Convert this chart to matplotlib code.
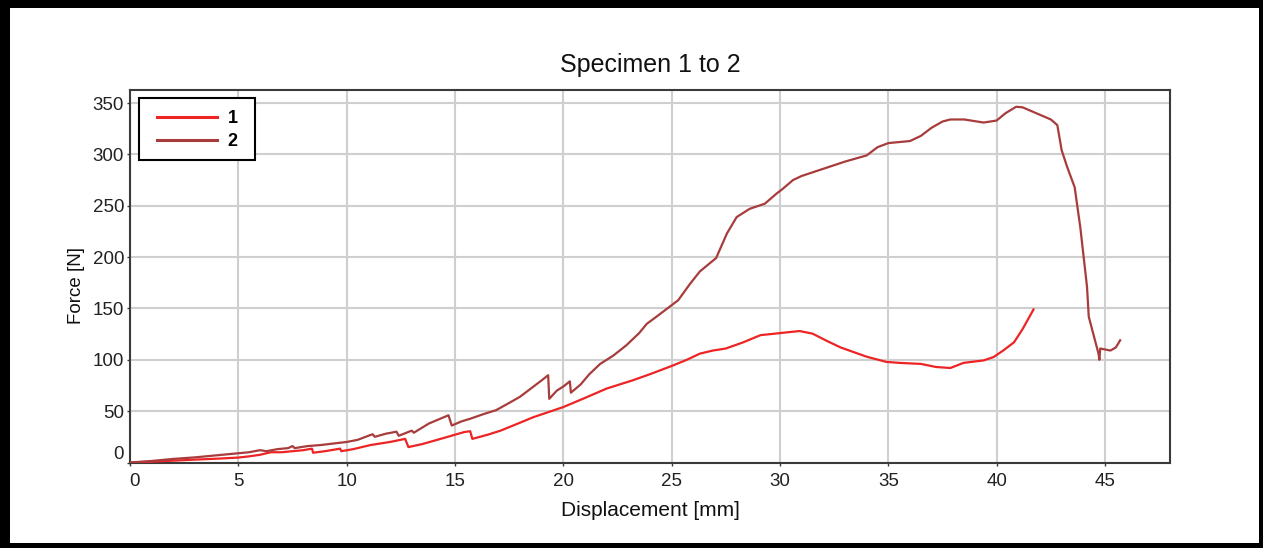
import matplotlib
matplotlib.use("Agg")
import matplotlib.pyplot as plt
from matplotlib.patches import Rectangle
from matplotlib.transforms import ScaledTranslation

plt.rcParams['font.family'] = ['Liberation Sans', 'DejaVu Sans']

# specimen 1 (red)
disp_1 = [0, 1, 2, 3, 4, 5, 5.5, 6.0, 6.5, 7.0, 7.5, 8.0, 8.4, 8.45, 9.0, 9.7, 9.75,
          10.3, 11.1, 12.0, 12.7, 12.85, 13.5, 14.5, 15.4, 15.7, 15.8, 16.5, 17.1,
          17.8, 18.6, 19.3, 20.0, 20.9, 22.0, 23.2, 24.0, 25.0, 25.7, 26.3, 26.9,
          27.5, 28.3, 29.1, 30.0, 30.9, 31.5, 32.2, 32.8, 34.0, 34.9, 35.5, 36.5,
          37.2, 37.86, 38.47, 39.4, 39.86, 40.3, 40.8, 41.2, 41.7]
force_1 = [0, 0.8, 1.8, 2.8, 3.7, 4.8, 6, 7.5, 10, 10, 11, 12, 13.5, 9.5, 11, 13.5, 11,
           13, 17, 20, 23, 15, 18, 24, 29.5, 30.5, 23, 27, 31,
           37, 44, 49, 54, 62, 72, 80, 86, 94, 100, 106, 109,
           111, 117, 124, 126, 128, 125.5, 118, 112, 103, 98, 97, 96,
           93, 92, 97, 99.4, 102.7, 109, 117, 130, 149]

# specimen 2 (dark red)
disp_2 = [0, 1, 2, 3, 4, 5, 5.5, 6.0, 6.3, 6.8, 7.3, 7.5, 7.6, 8.2, 8.8, 9.2, 9.6, 10.0,
          10.5, 11.0, 11.2, 11.3, 11.8, 12.3, 12.4, 13.0, 13.1, 13.8, 14.7, 14.85,
          15.3, 15.7, 16.3, 16.9, 17.5, 18.0, 18.5, 19.0, 19.3, 19.35, 19.7, 20.0,
          20.3, 20.35, 20.8, 21.2, 21.7, 22.3, 22.9, 23.5, 23.85, 24.3, 24.8, 25.3,
          25.85, 26.3, 26.7, 27.05, 27.55, 28.0, 28.6, 29.3, 29.85, 30.1, 30.6, 31.0,
          32.0, 33.0, 34.0, 34.5, 35.0, 36.0, 36.5, 37.0, 37.5, 37.86, 38.5, 39.4,
          40.0, 40.4, 40.9, 41.2, 42.5, 42.8, 43.0, 43.25, 43.6, 43.86, 44.17, 44.25,
          44.7, 44.74, 44.78, 45.25, 45.5, 45.7]
force_2 = [0, 1.5, 3.5, 5, 7, 9, 10, 12, 11, 13, 14, 16, 14, 16, 17, 18, 19, 20,
           22, 26, 27.5, 25, 28, 30, 26, 31, 29, 38, 46, 36,
           40, 42.6, 47, 51, 58, 64, 72, 80, 85, 62, 70, 74,
           79, 68, 76, 86, 96, 104, 114, 126, 135, 142, 150, 158,
           174, 186, 193, 199, 223, 239, 247, 252, 262, 266, 275, 279,
           286, 293, 299, 307, 311, 313, 318, 326, 332, 334, 334, 331,
           333, 340, 346.4, 345.8, 334, 328.5, 304, 288, 268, 229, 171, 142,
           106, 100, 111, 109, 112, 119]

x_ticks = [0, 5, 10, 15, 20, 25, 30, 35, 40, 45]
y_ticks = [0, 50, 100, 150, 200, 250, 300, 350]

W, H = 1263, 548
fig = plt.figure(figsize=(W / 100, H / 100), dpi=100)
fig.patch.set_facecolor('black')
# white page inside the black frame
fig.patches.append(Rectangle((10 / W, 5 / H), (W - 14) / W, (H - 13) / H,
                             transform=fig.transFigure, facecolor='white',
                             edgecolor='none', zorder=-5))

ax = fig.add_axes([130 / W, 1 - 462.5 / H, 1040 / W, 372.5 / H])
ax.set_zorder(2)
ax.set_facecolor('white')

ax.plot(disp_1, force_1, color='#ee2424', lw=1.6, label='1', zorder=3)
ax.plot(disp_2, force_2, color='#a83c3c', lw=1.6, label='2', zorder=3)

ax.set_xlim(0, 48)
ax.set_ylim(0, 362.7)
ax.set_xticks(x_ticks)
ax.set_yticks(y_ticks)
ax.grid(True, color='#cfcfcf', lw=1.5, zorder=0)
ax.set_axisbelow(True)

for s in ax.spines.values():
    s.set_color('#3a3a3a')
    s.set_linewidth(1.5)

ax.tick_params(axis='both', labelsize=13.5, colors='#3a3a3a', labelcolor='#222222',
               length=2, width=1)
ax.tick_params(axis='x', pad=5.5)
ax.tick_params(axis='y', pad=2.3)

ax.set_title('Specimen 1 to 2', fontsize=18, pad=13, color='#111111')
ax.set_xlabel('Displacement [mm]', fontsize=15, labelpad=8, color='#111111')
ax.set_ylabel('Force [N]', fontsize=13.5, color='#111111')
ax.yaxis.set_label_coords(-0.043, 0.476)

# legend box drawn separately so its padding can match the original
ax.add_patch(Rectangle((9 / 1040, (462.5 - 160) / 372.5), 116 / 1040, 62 / 372.5,
                       transform=ax.transAxes, facecolor='white', edgecolor='black',
                       lw=1.5, zorder=5))
leg = ax.legend(loc='upper left', bbox_to_anchor=(27 / 1040, (462.5 - 110) / 372.5),
                borderaxespad=0, borderpad=0, frameon=False, handlelength=3.3,
                prop={'weight': 'bold', 'size': 13}, labelspacing=0.35,
                handletextpad=0.6)
leg.set_zorder(6)
for h in leg.get_lines():
    h.set_linewidth(2.2)

# nudge the two zero labels like the original
fig.canvas.draw()
ax.get_xticklabels()[0].set_transform(ax.get_xticklabels()[0].get_transform()
                                      + ScaledTranslation(5 / 100, 0, fig.dpi_scale_trans))
ax.get_yticklabels()[0].set_transform(ax.get_yticklabels()[0].get_transform()
                                      + ScaledTranslation(0, 10 / 100, fig.dpi_scale_trans))

fig.savefig('out.png', dpi=100, facecolor=fig.get_facecolor())
